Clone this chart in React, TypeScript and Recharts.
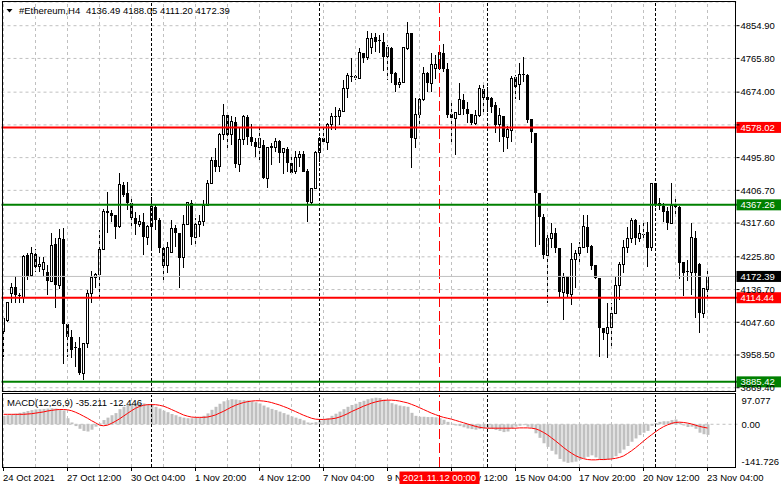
import React from "react";
import { ComposedChart, Bar, Line, XAxis, YAxis, CartesianGrid, ReferenceLine } from "recharts";

// ---------- DATA ----------
const opens = [
  4021.2, 4053.8, 4127.3, 4143.6, 4121.8, 4116.4, 4230.7, 4173.6, 4233.5, 4198.1,
  4190.0, 4184.4, 4159.9, 4260.7, 4149.0, 4274.3, 4042.9, 4007.7, 3977.6, 3977.6,
  3909.5, 3991.2, 4127.3, 4170.8, 4179.0, 4247.0, 4350.5, 4345.1, 4339.6, 4307.0,
  4421.3, 4399.5, 4372.3, 4331.4, 4315.1, 4320.6, 4279.7, 4307.0, 4361.4, 4326.0,
  4249.8, 4200.8, 4236.2, 4304.2, 4290.6, 4222.6, 4315.1, 4372.3, 4279.7, 4315.1,
  4320.6, 4366.8, 4426.7, 4489.3, 4470.3, 4557.4, 4611.8, 4557.4, 4592.8, 4478.4,
  4543.8, 4606.4, 4551.9, 4538.3, 4522.0, 4530.2, 4440.3, 4522.0, 4524.7, 4541.0,
  4508.4, 4519.3, 4481.1, 4456.7, 4494.8, 4505.6, 4459.4, 4375.0, 4413.1, 4511.1,
  4549.2, 4538.3, 4584.6, 4606.4, 4606.4, 4622.7, 4685.3, 4715.3, 4718.0, 4712.5,
  4780.6, 4767.0, 4794.2, 4824.0, 4813.3, 4810.5, 4769.7, 4794.2, 4726.1, 4693.5,
  4701.6, 4791.5, 4835.0, 4549.2, 4614.5, 4652.7, 4726.1, 4698.9, 4739.7, 4739.7,
  4780.6, 4737.0, 4614.5, 4603.6, 4614.5, 4652.7, 4628.1, 4614.5, 4590.0, 4611.8,
  4682.6, 4652.7, 4658.1, 4639.0, 4584.6, 4609.1, 4551.9, 4568.3, 4715.3, 4693.5,
  4720.7, 4720.7, 4600.9, 4562.8, 4399.5, 4334.1, 4230.7, 4274.3, 4290.6, 4249.8,
  4130.0, 4173.6, 4124.5, 4219.8, 4233.5, 4252.5, 4307.0, 4255.2, 4203.5, 4168.1,
  4032.0, 4018.4, 4034.7, 4072.8, 4149.0, 4206.2, 4252.5, 4274.3, 4326.0, 4277.0,
  4287.9, 4293.3, 4249.8, 4426.7, 4372.3, 4364.1, 4350.5, 4317.8, 4366.8, 4361.4,
  4211.7, 4187.2, 4184.4, 4277.0, 4206.2, 4072.8, 4136.49,
];
const highs = [
  4064.7, 4102.8, 4154.5, 4173.6, 4127.3, 4230.7, 4236.2, 4252.5, 4247.0, 4225.3,
  4225.3, 4203.5, 4290.6, 4277.0, 4301.5, 4304.2, 4042.9, 4026.6, 3994.0, 4007.7,
  3991.2, 4135.4, 4187.2, 4181.7, 4298.8, 4356.0, 4402.2, 4353.2, 4339.6, 4453.9,
  4429.4, 4429.4, 4388.6, 4347.8, 4339.6, 4345.1, 4312.4, 4388.6, 4366.8, 4331.4,
  4252.5, 4266.1, 4326.0, 4312.4, 4290.6, 4339.6, 4375.0, 4380.5, 4331.4, 4339.6,
  4380.5, 4434.9, 4497.5, 4522.0, 4562.8, 4641.8, 4617.3, 4609.1, 4606.4, 4579.1,
  4611.8, 4611.8, 4587.3, 4549.2, 4584.6, 4543.8, 4524.7, 4535.6, 4549.2, 4543.8,
  4522.0, 4524.7, 4497.5, 4513.8, 4513.8, 4513.8, 4464.8, 4413.1, 4513.8, 4551.9,
  4576.4, 4590.0, 4617.3, 4633.6, 4630.9, 4707.1, 4726.1, 4767.0, 4720.7, 4794.2,
  4780.6, 4840.5, 4835.0, 4835.0, 4829.6, 4835.0, 4802.3, 4797.0, 4728.9, 4712.5,
  4797.0, 4865.0, 4835.0, 4658.1, 4658.1, 4742.5, 4728.9, 4780.6, 4775.1, 4794.2,
  4805.1, 4753.4, 4644.5, 4620.0, 4698.9, 4669.0, 4647.2, 4614.5, 4625.4, 4693.5,
  4693.5, 4688.0, 4660.8, 4647.2, 4630.9, 4609.1, 4581.9, 4718.0, 4720.7, 4753.4,
  4769.7, 4723.4, 4600.9, 4562.8, 4399.5, 4342.3, 4290.6, 4317.8, 4304.2, 4249.8,
  4181.7, 4173.6, 4263.4, 4244.4, 4266.1, 4339.6, 4339.6, 4257.9, 4203.5, 4168.1,
  4032.0, 4100.1, 4100.1, 4170.8, 4211.7, 4271.6, 4307.0, 4331.4, 4328.7, 4312.4,
  4317.8, 4320.6, 4426.7, 4426.7, 4385.9, 4372.3, 4361.4, 4426.7, 4388.6, 4364.1,
  4211.7, 4217.1, 4317.8, 4296.1, 4209.0, 4140.9, 4188.05,
];
const lows = [
  3953.1, 4048.4, 4100.1, 4100.1, 4100.1, 4100.1, 4162.7, 4170.8, 4184.4, 4184.4,
  4170.8, 4121.8, 4157.2, 4086.5, 4138.2, 3934.2, 3953.1, 3950.4, 3926.0, 3904.1,
  3890.5, 3977.6, 4100.1, 4140.9, 4116.4, 4244.4, 4290.6, 4320.6, 4274.3, 4304.2,
  4388.6, 4353.2, 4307.0, 4285.2, 4307.0, 4230.7, 4257.9, 4244.4, 4298.8, 4236.2,
  4157.2, 4181.7, 4236.2, 4252.5, 4140.9, 4195.3, 4312.4, 4257.9, 4252.5, 4279.7,
  4309.7, 4364.1, 4424.0, 4456.7, 4456.7, 4543.8, 4522.0, 4530.2, 4467.5, 4456.7,
  4530.2, 4530.2, 4527.4, 4497.5, 4489.3, 4437.6, 4413.1, 4475.7, 4511.1, 4481.1,
  4451.2, 4456.7, 4448.5, 4451.2, 4470.3, 4456.7, 4320.6, 4369.6, 4413.1, 4483.9,
  4530.2, 4516.6, 4571.0, 4571.0, 4584.6, 4622.7, 4658.1, 4701.6, 4707.1, 4709.8,
  4753.4, 4761.5, 4777.9, 4783.3, 4780.6, 4731.6, 4707.1, 4698.9, 4674.4, 4685.3,
  4698.9, 4788.8, 4467.5, 4522.0, 4579.1, 4650.0, 4674.4, 4674.4, 4709.8, 4734.3,
  4728.9, 4603.6, 4535.6, 4502.9, 4614.5, 4611.8, 4590.0, 4584.6, 4584.6, 4606.4,
  4617.3, 4620.0, 4617.3, 4562.8, 4538.3, 4511.1, 4519.3, 4538.3, 4655.4, 4652.7,
  4701.6, 4590.0, 4535.6, 4252.5, 4257.9, 4219.8, 4100.1, 4249.8, 4236.2, 4116.4,
  4053.8, 4116.4, 4094.6, 4140.9, 4211.7, 4249.8, 4236.2, 4189.9, 4165.4, 3953.1,
  3999.4, 3950.4, 3977.6, 4072.8, 4108.3, 4181.7, 4236.2, 4263.4, 4257.9, 4266.1,
  4271.6, 4198.1, 4241.6, 4361.4, 4353.2, 4320.6, 4298.8, 4315.1, 4334.1, 4165.4,
  4119.1, 4159.9, 4121.8, 4059.2, 4018.4, 4059.2, 4111.2,
];
const closes = [
  4059.2, 4100.1, 4143.6, 4121.8, 4119.1, 4228.0, 4173.6, 4233.5, 4198.1, 4206.2,
  4209.0, 4159.9, 4257.9, 4149.0, 4274.3, 4042.9, 4007.7, 3972.2, 3974.9, 3909.5,
  3991.2, 4127.3, 4170.8, 4179.0, 4247.0, 4350.5, 4345.1, 4336.9, 4307.0, 4421.3,
  4394.1, 4372.3, 4331.4, 4315.1, 4320.6, 4279.7, 4307.0, 4361.4, 4326.0, 4249.8,
  4200.8, 4249.8, 4304.2, 4290.6, 4222.6, 4315.1, 4372.3, 4279.7, 4315.1, 4320.6,
  4366.8, 4426.7, 4489.3, 4470.3, 4557.4, 4611.8, 4557.4, 4592.8, 4478.4, 4543.8,
  4606.4, 4551.9, 4538.3, 4524.7, 4549.2, 4440.3, 4522.0, 4527.4, 4541.0, 4508.4,
  4519.3, 4481.1, 4453.9, 4494.8, 4505.6, 4456.7, 4375.0, 4413.1, 4511.1, 4549.2,
  4538.3, 4584.6, 4606.4, 4609.1, 4625.4, 4685.3, 4718.0, 4718.0, 4712.5, 4780.6,
  4767.0, 4821.4, 4821.4, 4810.5, 4816.0, 4769.7, 4794.2, 4723.4, 4693.5, 4701.6,
  4794.2, 4835.0, 4549.2, 4614.5, 4652.7, 4726.1, 4698.9, 4750.6, 4750.6, 4780.6,
  4737.0, 4611.8, 4603.6, 4617.3, 4652.7, 4628.1, 4614.5, 4590.0, 4611.8, 4682.6,
  4658.1, 4658.1, 4633.6, 4584.6, 4609.1, 4551.9, 4571.0, 4712.5, 4688.0, 4723.4,
  4723.4, 4598.2, 4565.5, 4399.5, 4334.1, 4230.7, 4274.3, 4290.6, 4249.8, 4130.0,
  4170.8, 4124.5, 4219.8, 4233.5, 4252.5, 4307.0, 4252.5, 4200.8, 4168.1, 4032.0,
  4018.4, 4034.7, 4072.8, 4149.0, 4206.2, 4252.5, 4274.3, 4326.0, 4277.0, 4290.6,
  4290.6, 4249.8, 4426.7, 4366.8, 4364.1, 4347.8, 4317.8, 4366.8, 4361.4, 4209.0,
  4181.7, 4184.4, 4279.7, 4181.7, 4072.8, 4138.2, 4172.39,
];
const macdHist = [
  28, 30, 32, 35, 38, 41, 44, 47, 49, 50, 51, 52, 53, 52, 50, 46,
  20, 6, -6, -15, -22, -24, -18, -8, 3, 14, 22, 30, 37, 50, 58, 64,
  68, 70, 70, 69, 67, 65, 58, 52, 45, 40, 34, 30, 25, 22, 20, 20,
  21, 23, 28, 36, 48, 58, 68, 76, 80, 83, 82, 80, 80, 79, 76, 73,
  69, 62, 56, 51, 47, 42, 37, 32, 26, 22, 18, 13, 6, 5, 7, 12,
  15, 20, 28, 35, 42, 50, 58, 64, 68, 74, 78, 83, 86, 88, 87, 82,
  78, 70, 66, 62, 60, 58, 38, 28, 25, 25, 24, 24, 23, 20, 15, 8,
  2, -4, -6, -10, -14, -16, -18, -16, -14, -14, -16, -19, -22, -26, -24, -14,
  -8, -5, -3, -8, -12, -30, -45, -63, -75, -88, -100, -115, -124, -128, -126, -124,
  -118, -112, -108, -103, -110, -116, -119, -117, -113, -106, -96, -84, -72, -58, -47, -36,
  -28, -22, -5, 4, 8, 10, 10, 14, 16, 6, -4, -9, -8, -15, -28, -33,
  -35.211,
];
const macdSignal = [
  33, 33, 33, 33, 33, 33, 34, 35, 37, 39, 41, 44, 46, 48, 49, 49,
  48, 45, 40, 34, 27, 20, 12, 5, -3, -5, -3, 3, 10, 18, 27, 36,
  45, 53, 59, 63, 65, 65, 65, 63, 60, 55, 49, 43, 37, 31, 27, 24,
  23, 23, 23, 24, 27, 31, 37, 43, 50, 57, 63, 68, 72, 75, 77, 78,
  78, 77, 75, 72, 68, 64, 59, 54, 48, 42, 36, 30, 25, 20, 17, 16,
  16, 17, 18, 20, 24, 29, 35, 42, 48, 54, 60, 65, 70, 74, 77, 79,
  80, 80, 79, 77, 74, 71, 66, 61, 55, 49, 43, 37, 32, 27, 23, 20,
  17, 13, 9, 5, 1, -3, -7, -10, -12, -13, -13, -13, -13, -13, -13, -13,
  -13, -12, -12, -12, -13, -15, -20, -27, -35, -45, -55, -66, -77, -87, -96, -104,
  -110, -114, -117, -118, -118, -117, -117, -116, -115, -113, -110, -105, -97, -88, -78, -67,
  -56, -45, -35, -25, -16, -8, -2, 3, 6, 7, 6, 4, 1, -3, -7, -10,
  -12.446,
];

const timeTickIndex = [0, 16, 32, 48, 64, 80, 96, 112, 128, 144, 160, 176];
const timeTickLabels = [
  "24 Oct 2021", "27 Oct 12:00", "30 Oct 04:00", "1 Nov 20:00", "4 Nov 12:00", "7 Nov 04:00",
  "9 Nov 20:00", "12 Nov 12:00", "15 Nov 04:00", "17 Nov 20:00", "20 Nov 12:00", "23 Nov 04:00",
];
const priceTicks = [4854.9, 4765.8, 4674.0, 4584.9, 4495.8, 4406.7, 4317.6, 4225.8, 4136.7, 4047.6, 3958.5, 3869.4];
const hiddenPriceTick = 4584.9;
const priceDomain = [3860.55, 4919.4];
const resistanceLevels = [4578.02, 4114.44];
const supportLevels = [4367.26, 3885.42];
const bidPrice = 4172.39;
const separatorIdx = [37, 79, 121, 163];
const markerIdx = 109;
const markerLabel = "2021.11.12 00:00";
const macdTicks = [97.077, 0, -141.726];
const macdTickLabels = ["97.077", "0.00", "-141.726"];
const macdDomain = [-141.726, 97.077];
const titleSymbol = "#Ethereum,H4";
const titleValues = "4136.49 4188.05 4111.20 4172.39";
const macdTitle = "MACD(12,26,9) -35.211 -12.446";
const totalSlots = 184;

// ---------- BUILD ----------
const rows: any[] = [];
for (let i = 0; i < totalSlots; i++) {
  const r: any = { idx: i };
  if (i < opens.length) {
    r.o = opens[i];
    r.h = highs[i];
    r.l = lows[i];
    r.c = closes[i];
    r.range = [lows[i], highs[i]];
    r.macd = macdHist[i];
    r.signal = macdSignal[i];
  }
  rows.push(r);
}
const gridIdx: number[] = [];
for (let i = 0; i < totalSlots; i += 8) gridIdx.push(i);

const FONT = "'Liberation Sans', Arial, sans-serif";
const FS = 9.5;
const GRID = "#C0C0C0";

const Candle = (props: any) => {
  const { x, y, width, height, payload } = props;
  if (!payload || payload.o == null) return null;
  const top = Math.min(y, y + height);
  const bot = Math.max(y, y + height);
  const { o, h, l, c } = payload;
  const span = h - l;
  const py = (v: number) => (span === 0 ? top : top + ((h - v) / span) * (bot - top));
  const cx = Math.round(x + width / 2 - 0.5) + 0.5;
  const yo = py(o);
  const yc = py(c);
  let body;
  if (Math.abs(yo - yc) < 1) {
    body = <line x1={cx - 1.5} x2={cx + 1.5} y1={yo} y2={yo} stroke="#000" strokeWidth={1} />;
  } else if (c > o) {
    body = <rect x={cx - 1} y={yc} width={2} height={yo - yc} fill="#fff" stroke="#000" strokeWidth={1} />;
  } else {
    body = <rect x={cx - 1.5} y={yo} width={3} height={yc - yo} fill="#000" />;
  }
  return (
    <g shapeRendering="crispEdges">
      <line x1={cx} x2={cx} y1={py(h)} y2={py(l)} stroke="#000" strokeWidth={1} />
      {body}
    </g>
  );
};

const PriceTick = (props: any) => {
  const { x, y, payload } = props;
  const v = payload.value;
  const hidden = Math.abs(v - hiddenPriceTick) < 0.001;
  return (
    <g>
      <line x1={x - 4} x2={x - 1} y1={y} y2={y} stroke="#000" />
      {!hidden && (
        <text x={x} y={y} dy="0.35em" fontFamily={FONT} fontSize={FS} fill="#000">
          {v.toFixed(2)}
        </text>
      )}
    </g>
  );
};

const MacdTick = (props: any) => {
  const { x, y, payload } = props;
  const k = macdTicks.indexOf(payload.value);
  const label = k >= 0 ? macdTickLabels[k] : "";
  const yy = payload.value > 0 ? y + 5.5 : payload.value < 0 ? y - 5 : y;
  return (
    <text x={x + 1} y={yy} dy="0.35em" fontFamily={FONT} fontSize={FS} fill="#000">
      {label}
    </text>
  );
};

const TimeTick = (props: any) => {
  const { x, y, payload } = props;
  const v = payload.value;
  if (v === markerIdx) {
    return (
      <g>
        <rect x={x - 40} y={y + 4.5} width={80} height={12.5} fill="#FF0000" />
        <text x={x} y={y + 14} textAnchor="middle" fontFamily={FONT} fontSize={FS} fill="#fff">
          {markerLabel}
        </text>
      </g>
    );
  }
  const k = timeTickIndex.indexOf(v);
  return (
    <g>
      <line x1={x} x2={x} y1={y} y2={y + 4} stroke="#000" />
      <text x={x - 0.5} y={y + 14} fontFamily={FONT} fontSize={FS} fill="#000">
        {k >= 0 ? timeTickLabels[k] : ""}
      </text>
    </g>
  );
};

const LevelLabel = (props: any) => {
  const vb = props.viewBox || {};
  const right = (vb.x || 0) + (vb.width || 0);
  const y = (vb.y || 0) + (vb.height || 0) / 2;
  return (
    <g>
      <rect x={right - 1} y={y - 5.5} width={46} height={11} fill={props.bg} />
      <text x={right + 3} y={y} dy="0.35em" fontFamily={FONT} fontSize={FS} fill="#fff">
        {props.text}
      </text>
    </g>
  );
};

const verticalLines = () => [
  ...gridIdx.map((i) => (
    <ReferenceLine key={"g" + i} x={i} stroke={GRID} strokeDasharray="3 3" />
  )),
  ...separatorIdx.map((i) => (
    <ReferenceLine key={"s" + i} x={i} stroke="#000" strokeDasharray="3 2" />
  )),
  <ReferenceLine key="m" x={markerIdx} stroke="#FF0000" strokeDasharray="10 4" />,
];

export default function App() {
  return (
    <div style={{ position: "absolute", left: 0, top: 0, width: 781, height: 489, background: "#fff", overflow: "hidden" }}>
      <div style={{ position: "absolute", left: 0, top: 0 }}>
        <ComposedChart width={781} height={392} data={rows} margin={{ top: 2, right: 0, bottom: 1, left: 1.5 }} barCategoryGap="10%">
          <CartesianGrid vertical={false} stroke={GRID} strokeDasharray="3 3" />
          <XAxis dataKey="idx" type="category" hide />
          <YAxis
            orientation="right"
            width={43.5}
            type="number"
            domain={priceDomain}
            ticks={priceTicks}
            interval={0}
            allowDataOverflow
            axisLine={false}
            tickLine={false}
            tickSize={0}
            tickMargin={3}
            tick={<PriceTick />}
          />
          {verticalLines()}
          <ReferenceLine y={bidPrice} stroke={GRID} label={<LevelLabel text={bidPrice.toFixed(2)} bg="#000" />} />
          {resistanceLevels.map((v) => (
            <ReferenceLine key={"r" + v} y={v} stroke="#FF0000" strokeWidth={2} label={<LevelLabel text={v.toFixed(2)} bg="#FF0000" />} />
          ))}
          {supportLevels.map((v) => (
            <ReferenceLine key={"p" + v} y={v} stroke="#008000" strokeWidth={2} label={<LevelLabel text={v.toFixed(2)} bg="#008000" />} />
          ))}
          <Bar dataKey="range" isAnimationActive={false} shape={(p: any) => <Candle {...p} />} />
        </ComposedChart>
      </div>
      <div style={{ position: "absolute", left: 0, top: 392 }}>
        <ComposedChart width={781} height={97} data={rows} margin={{ top: 3, right: 0, bottom: 0, left: 1.5 }} barCategoryGap="10%">
          <XAxis
            dataKey="idx"
            type="category"
            ticks={[...timeTickIndex, markerIdx]}
            interval={0}
            height={22}
            axisLine={false}
            tickLine={false}
            tickSize={0}
            tickMargin={0}
            tick={<TimeTick />}
          />
          <YAxis
            orientation="right"
            width={43.5}
            type="number"
            domain={macdDomain}
            ticks={macdTicks}
            interval={0}
            allowDataOverflow
            axisLine={false}
            tickLine={false}
            tickSize={0}
            tickMargin={3}
            tick={<MacdTick />}
          />
          {verticalLines()}
          <ReferenceLine y={0} stroke={GRID} strokeDasharray="3 3" />
          <Bar dataKey="macd" fill="#C0C0C0" barSize={3} isAnimationActive={false} />
          <Line dataKey="signal" type="linear" stroke="#FF0000" strokeWidth={1} dot={false} isAnimationActive={false} />
        </ComposedChart>
      </div>
      <svg width={781} height={489} style={{ position: "absolute", left: 0, top: 0, pointerEvents: "none" }}>
        <rect x={2.5} y={1.5} width={733} height={390} fill="none" stroke="#000" shapeRendering="crispEdges" />
        <rect x={2.5} y={393.5} width={733} height={74} fill="none" stroke="#000" shapeRendering="crispEdges" />
        <polygon points="6.5,9 12.5,9 9.5,12.5" fill="#000" />
        <text x={19} y={14} fontFamily={FONT} fontSize={FS} fill="#000">{titleSymbol}</text>
        <text x={86} y={14} fontFamily={FONT} fontSize={FS} fill="#000">{titleValues}</text>
        <text x={7} y={405.5} fontFamily={FONT} fontSize={FS} fill="#000">{macdTitle}</text>
      </svg>
    </div>
  );
}
